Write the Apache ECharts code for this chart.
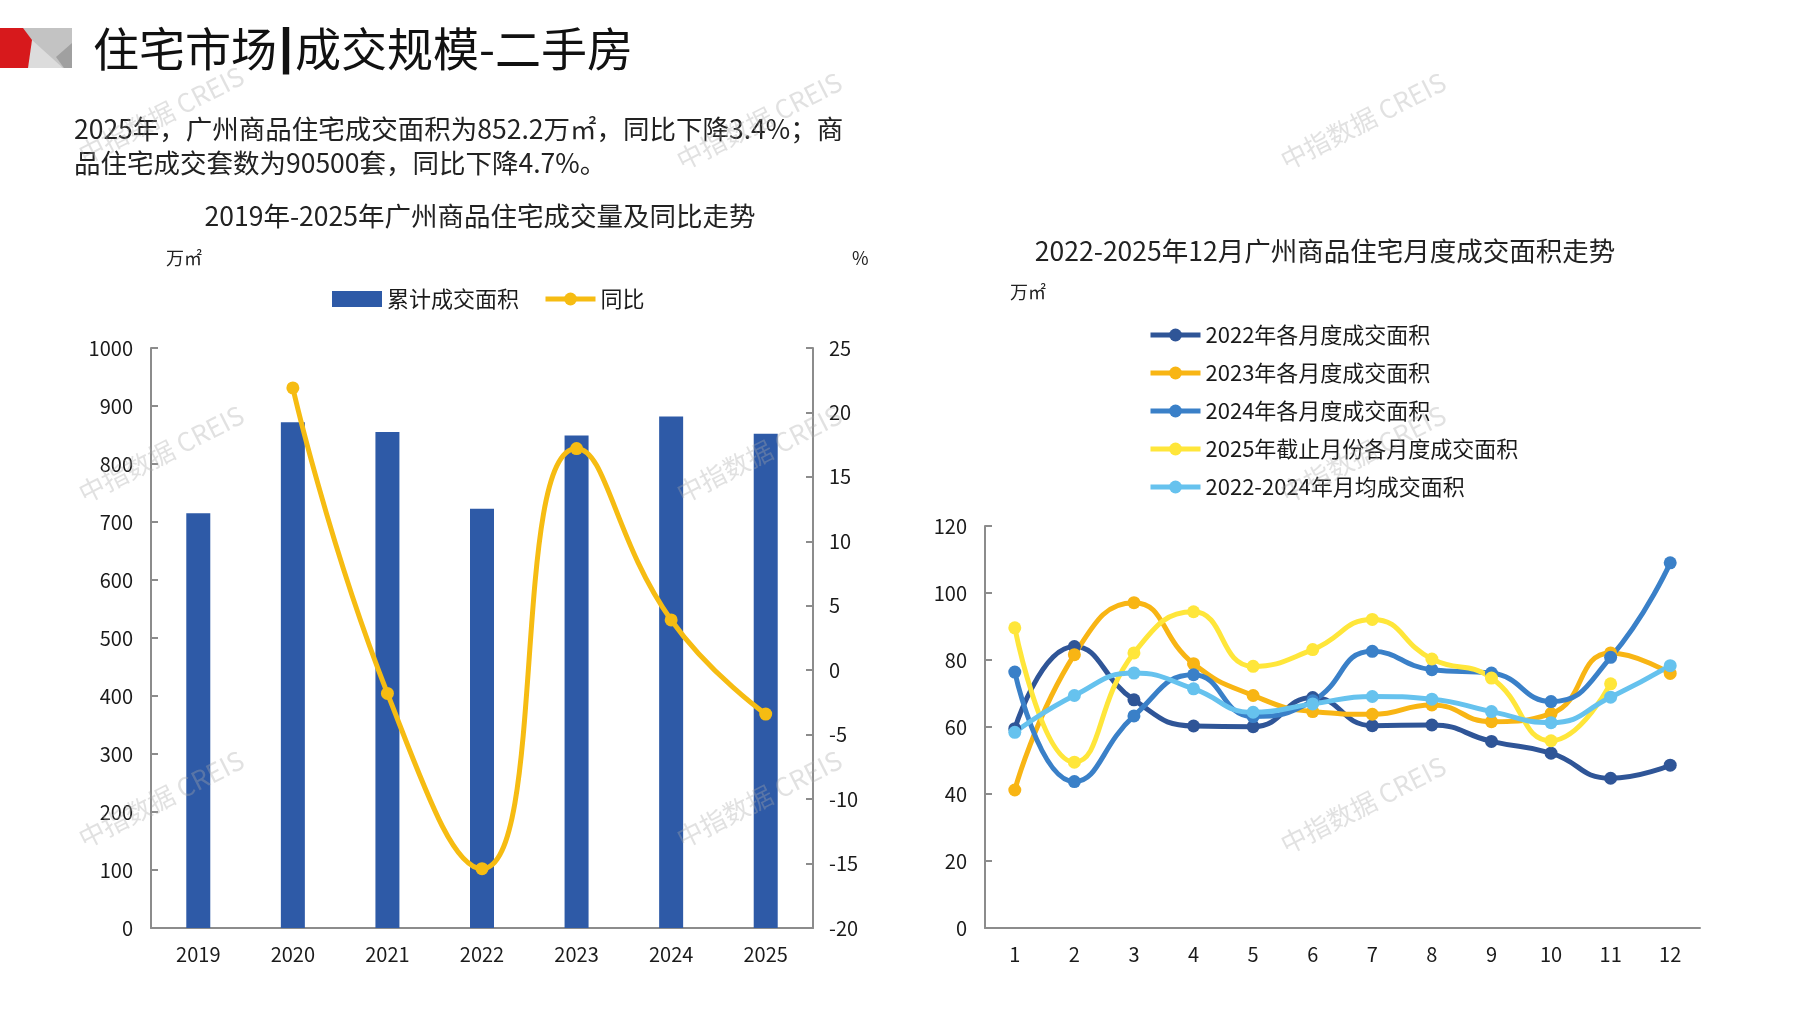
<!DOCTYPE html>
<html>
<head>
<meta charset="utf-8">
<script src="https://cdn.jsdelivr.net/npm/echarts@6/dist/echarts.min.js"></script>
<style>
html,body{margin:0;padding:0;background:#fff;}
#c{width:1797px;height:1010px;}
</style>
</head>
<body>
<div id="c"></div>
<script>
// ---------- data ----------
var years = ['2019','2020','2021','2022','2023','2024','2025'];
var areaTotal = [715, 872, 855, 723, 849, 882, 852.2];
var yoy = [null, 21.9, -1.8, -15.4, 17.2, 3.9, -3.4];

var months = ['1','2','3','4','5','6','7','8','9','10','11','12'];
var m2022 = [59.5, 84.0, 68.1, 60.3, 60.1, 68.8, 60.4, 60.6, 55.7, 52.2, 44.7, 48.6];
var m2023 = [41.2, 81.6, 97.1, 78.9, 69.4, 64.6, 63.8, 66.6, 61.6, 64.0, 82.1, 76.0];
var m2024 = [76.4, 43.7, 63.3, 75.6, 63.1, 67.8, 82.6, 77.1, 76.1, 67.6, 80.8, 109.0];
var m2025 = [89.6, 49.5, 82.1, 94.4, 78.1, 83.1, 92.1, 80.3, 74.6, 55.9, 72.9, null];
var mAvg  = [58.4, 69.4, 76.1, 71.4, 64.4, 66.9, 69.1, 68.3, 64.6, 61.3, 68.9, 78.3];

var seriesNamesR = ['2022年各月度成交面积','2023年各月度成交面积','2024年各月度成交面积','2025年截止月份各月度成交面积','2022-2024年月均成交面积'];
var colorsR = ['#2F5597','#F8B514','#3A80C8','#FFE63A','#66C2EE'];

var FONT = '"Noto Sans CJK SC", "Noto Sans", sans-serif';
var axisColor = '#8C8C8C';
var labelColor = '#1A1A1A';

var chart = echarts.init(document.getElementById('c'));

function wm(x, y) {
  return {
    type: 'text', x: x, y: y, rotation: 0.47, z: 100, silent: true,
    style: { text: '中指数据 CREIS', fill: 'rgba(170,170,170,0.35)', font: '26px ' + FONT, align: 'center', verticalAlign: 'middle' }
  };
}

var rightSeries = [m2022, m2023, m2024, m2025, mAvg].map(function (d, i) {
  return {
    name: seriesNamesR[i], type: 'line', xAxisIndex: 1, yAxisIndex: 2,
    data: d, smooth: true, symbol: 'circle', symbolSize: 13,
    lineStyle: { width: 5, color: colorsR[i] },
    itemStyle: { color: colorsR[i] },
    connectNulls: false
  };
});

var option = {
  backgroundColor: '#fff',
  animation: false,
  textStyle: { fontFamily: FONT },
  grid: [
    { left: 151, right: 1797 - 813, top: 348, bottom: 82 },
    { left: 985, right: 1797 - 1700, top: 526, bottom: 82 }
  ],
  legend: [
    {
      data: [{ name: '累计成交面积', icon: 'rect' }, '同比'],
      left: 327, top: 283, itemWidth: 50, itemHeight: 16, itemGap: 24,
      lineStyle: { width: 5 },
      textStyle: { fontSize: 22, color: labelColor, fontFamily: FONT }
    },
    {
      data: seriesNamesR, orient: 'vertical', left: 1143, top: 319,
      itemWidth: 50, itemHeight: 16, itemGap: 16,
      lineStyle: { width: 5 },
      textStyle: { fontSize: 22, color: labelColor, fontFamily: FONT }
    }
  ],
  xAxis: [
    {
      type: 'category', gridIndex: 0, data: years, boundaryGap: true,
      axisLine: { lineStyle: { color: axisColor, width: 2 } },
      axisTick: { inside: true, length: 7, lineStyle: { color: axisColor, width: 2 } },
      axisLabel: { fontSize: 20, color: labelColor, margin: 16, fontFamily: FONT }
    },
    {
      type: 'category', gridIndex: 1, data: months, boundaryGap: true,
      axisLine: { lineStyle: { color: axisColor, width: 2 } },
      axisTick: { inside: true, length: 7, lineStyle: { color: axisColor, width: 2 } },
      axisLabel: { fontSize: 20, color: labelColor, margin: 16, fontFamily: FONT }
    }
  ],
  yAxis: [
    {
      type: 'value', gridIndex: 0, min: 0, max: 1000, interval: 100,
      axisLine: { show: true, lineStyle: { color: axisColor, width: 2 } },
      axisTick: { show: true, inside: true, length: 7, lineStyle: { color: axisColor, width: 2 } },
      splitLine: { show: false },
      axisLabel: { fontSize: 20, color: labelColor, margin: 18, fontFamily: FONT, formatter: function (v) { return String(v); } }
    },
    {
      type: 'value', gridIndex: 0, position: 'right', min: -20, max: 25, interval: 5,
      axisLine: { show: true, lineStyle: { color: axisColor, width: 2 } },
      axisTick: { show: true, inside: true, length: 7, lineStyle: { color: axisColor, width: 2 } },
      splitLine: { show: false },
      axisLabel: { fontSize: 20, color: labelColor, margin: 16, fontFamily: FONT }
    },
    {
      type: 'value', gridIndex: 1, min: 0, max: 120, interval: 20,
      axisLine: { show: true, lineStyle: { color: axisColor, width: 2 } },
      axisTick: { show: true, inside: true, length: 7, lineStyle: { color: axisColor, width: 2 } },
      splitLine: { show: false },
      axisLabel: { fontSize: 20, color: labelColor, margin: 18, fontFamily: FONT }
    }
  ],
  series: [
    {
      name: '累计成交面积', type: 'bar', xAxisIndex: 0, yAxisIndex: 0,
      data: areaTotal, barWidth: 24, itemStyle: { color: '#2E5AA7' }
    },
    {
      name: '同比', type: 'line', xAxisIndex: 0, yAxisIndex: 1,
      data: yoy, smooth: true, symbol: 'circle', symbolSize: 13,
      lineStyle: { width: 5, color: '#F6BC12' }, itemStyle: { color: '#F6BC12' }
    }
  ].concat(rightSeries),
  graphic: [
    // logo
    { type: 'rect', shape: { x: 23, y: 28, width: 49, height: 40 }, style: { fill: '#C3C3C3' } },
    { type: 'polygon', shape: { points: [[26,40],[32,40],[63,68],[26,68]] }, style: { fill: '#DCDCDC' } },
    { type: 'polygon', shape: { points: [[72,43],[72,68],[64,68],[56,57]] }, style: { fill: '#A0A0A0' } },
    { type: 'polygon', shape: { points: [[0,28],[23,28],[32,40],[28,68],[0,68]] }, style: { fill: '#D7191C' } },
    // header
    { type: 'text', x: 93, y: 49, style: {
        text: '住宅市场{b||}成交规模-二手房', fill: '#111', font: '46px ' + FONT, verticalAlign: 'middle',
        rich: { b: { fontSize: 50, fontWeight: 'bold', fill: '#111', padding: [0, 2, 0, 2] } }
      } },
    { type: 'text', x: 74, y: 129, style: { text: '2025年，广州商品住宅成交面积为852.2万㎡，同比下降3.4%；商', fill: '#222', font: '26.5px ' + FONT, verticalAlign: 'middle' } },
    { type: 'text', x: 74, y: 163, style: { text: '品住宅成交套数为90500套，同比下降4.7%。', fill: '#222', font: '26.5px ' + FONT, verticalAlign: 'middle' } },
    // chart titles
    { type: 'text', x: 480, y: 216, style: { text: '2019年-2025年广州商品住宅成交量及同比走势', fill: '#222', font: '26.5px ' + FONT, align: 'center', verticalAlign: 'middle' } },
    { type: 'text', x: 1325, y: 251, style: { text: '2022-2025年12月广州商品住宅月度成交面积走势', fill: '#222', font: '26.5px ' + FONT, align: 'center', verticalAlign: 'middle' } },
    // units
    { type: 'text', x: 166, y: 258, style: { text: '万㎡', fill: '#222', font: '18px ' + FONT, verticalAlign: 'middle' } },
    { type: 'text', x: 852, y: 258, style: { text: '%', fill: '#222', font: '18px ' + FONT, verticalAlign: 'middle' } },
    { type: 'text', x: 1010, y: 292, style: { text: '万㎡', fill: '#222', font: '18px ' + FONT, verticalAlign: 'middle' } },
    // watermarks
    wm(161, 115), wm(759, 121), wm(1363, 121),
    wm(161, 454), wm(759, 454), wm(1363, 454),
    wm(161, 799), wm(759, 799), wm(1363, 805)
  ]
};
chart.setOption(option);
</script>
</body>
</html>
